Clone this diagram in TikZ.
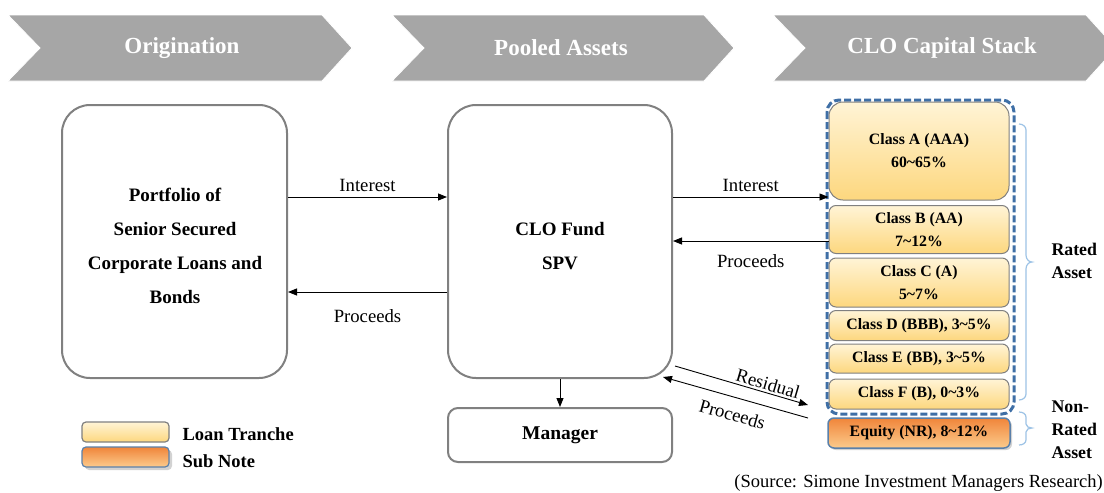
\documentclass[tikz,border=0pt]{standalone}
\usepackage{fontspec}
\setmainfont{Liberation Serif}
\usetikzlibrary{arrows.meta,shadows}
\definecolor{chev}{HTML}{A6A6A6}
\definecolor{boxline}{HTML}{808080}
\definecolor{stackblue}{HTML}{3F6FA6}
\definecolor{bracecol}{HTML}{9DC3E6}
\definecolor{loantop}{HTML}{FFF4D6}
\definecolor{loanbot}{HTML}{FDD77E}
\definecolor{eqtop}{HTML}{F0853A}
\definecolor{eqbot}{HTML}{FCCB8C}
\definecolor{eqline}{HTML}{5A80AA}
\tikzset{
  chevron/.style={fill=chev, draw=white, line width=0.8pt},
  chevtext/.style={text=white, font=\fontsize{23}{26}\selectfont\bfseries},
  bigbox/.style={draw=boxline, line width=2pt, rounded corners=28pt, fill=white},
  mgrbox/.style={draw=boxline, line width=2pt, rounded corners=10pt, fill=white},
  boxtext/.style={font=\fontsize{19}{34}\selectfont\bfseries, align=center},
  flow/.style={line width=0.9pt, -{Triangle[length=9pt,width=7pt]}},
  flowlabel/.style={font=\fontsize{18.7}{21}\selectfont},
  tranche/.style={draw=boxline, line width=1pt, rounded corners=7pt, shading=axis, top color=loantop, bottom color=loanbot, font=\fontsize{15.8}{23}\selectfont\bfseries, align=center, inner sep=0pt},
  equitybox/.style={draw=eqline, line width=1.5pt, rounded corners=6pt, shading=axis, top color=eqtop, bottom color=eqbot, font=\fontsize{15.8}{18}\selectfont\bfseries, inner sep=0pt, drop shadow={shadow xshift=2pt, shadow yshift=-2pt, opacity=0.35}},
  bracetext/.style={font=\fontsize{17.8}{23}\selectfont\bfseries, align=left, anchor=west},
  legtext/.style={font=\fontsize{18.5}{20}\selectfont\bfseries, anchor=west},
}
\begin{document}
\begin{tikzpicture}[x=1pt,y=-1pt]
\useasboundingbox (0,0) rectangle (1104,493);
\fill[white] (0,0) rectangle (1104,493);
% chevrons
\fill[chevron] (8,15) -- (322,15) -- (352,48) -- (322,81) -- (8,81) -- (40,48) -- cycle;
\fill[chevron] (392,15) -- (704,15) -- (734,48) -- (704,81) -- (392,81) -- (424,48) -- cycle;
\fill[chevron] (773,15) -- (1086,15) -- (1116,48) -- (1086,81) -- (773,81) -- (805,48) -- cycle;
\node[chevtext] (c1) at (182,48) {Origination};
\node[chevtext] (c2) at (561,48) {Pooled Assets};
\node[chevtext] (c3) at (942,48) {CLO Capital Stack};
% main boxes
\node[bigbox, minimum width=225pt, minimum height=273pt] (port) at (174.5,241.5) {};
\node[boxtext] (porttext) at (175,246) {Portfolio of\\Senior Secured\\Corporate Loans and\\Bonds};
\node[bigbox, minimum width=224pt, minimum height=273pt] (fund) at (560,241.5) {};
\node[boxtext] (fundtext) at (560,246) {CLO Fund\\SPV};
\node[mgrbox, minimum width=224pt, minimum height=54pt, boxtext, font=\fontsize{19.5}{24}\selectfont\bfseries] (mgr) at (560,435) {Manager};
% stack
\draw[stackblue, line width=3pt, dash pattern=on 7pt off 3pt, rounded corners=12pt] (827,100) rectangle (1014,414);
\node[tranche, minimum width=180pt, minimum height=98pt, rounded corners=14pt] (ca) at (919,151) {Class A (AAA)\\60\textasciitilde65\%};
\node[tranche, minimum width=180pt, minimum height=48pt] (cb) at (919,229.5) {Class B (AA)\\7\textasciitilde12\%};
\node[tranche, minimum width=180pt, minimum height=49pt] (cc) at (919,282.5) {Class C (A)\\5\textasciitilde7\%};
\node[tranche, minimum width=180pt, minimum height=30pt] (cd) at (919,325.5) {Class D (BBB), 3\textasciitilde5\%};
\node[tranche, minimum width=180pt, minimum height=29pt] (ce) at (919,358.5) {Class E (BB), 3\textasciitilde5\%};
\node[tranche, minimum width=180pt, minimum height=30pt] (cf) at (919,394) {Class F (B), 0\textasciitilde3\%};
\node[equitybox, minimum width=182pt, minimum height=30pt] (eq) at (919,433) {Equity (NR), 8\textasciitilde12\%};
% braces
\draw[bracecol, line width=1.2pt] (1019,124) to[out=0,in=90] (1026,130) -- (1026,255) to[out=-90,in=180] (1032,262) to[out=180,in=90] (1026,269) -- (1026,394) to[out=-90,in=0] (1019,400);
\draw[bracecol, line width=1.2pt] (1019,412) to[out=0,in=90] (1026,417) -- (1026,424) to[out=-90,in=180] (1032,428) to[out=180,in=90] (1026,432) -- (1026,440) to[out=-90,in=0] (1019,445);
\node[bracetext] (rated) at (1048,261) {Rated\\Asset};
\node[bracetext] (nonrated) at (1048,430) {Non-\\Rated\\Asset};
% flows
\coordinate (yi) at (0,197);
\coordinate (yp) at (0,292);
\coordinate (yp2) at (0,241);
\draw[flow] (port.east |- yi) -- node[flowlabel, above=2pt] (l1) {Interest} (fund.west |- yi);
\draw[flow] (fund.west |- yp) -- node[flowlabel, below=14pt] (l2) {Proceeds} (port.east |- yp);
\draw[flow] (fund.east |- yi) -- node[flowlabel, above=2pt] (l3) {Interest} (ca.west |- yi);
\draw[flow] (cb.west |- yp2) -- node[flowlabel, below=10pt] (l4) {Proceeds} (fund.east |- yp2);
\draw[flow] (fund.south) -- (mgr.north);
\coordinate (r1) at (675,366);
\coordinate (r2) at (808,405);
\coordinate (p1) at (808,418);
\coordinate (p2) at (663,377);
\draw[flow] (r1) -- node[flowlabel, sloped, above=2pt, pos=0.68, inner sep=0pt] (lr) {Residual} (r2);
\draw[flow] (p1) -- node[flowlabel, sloped, below=10pt, pos=0.49, inner sep=0pt] (lp) {Proceeds} (p2);
% legend
\node[draw=boxline, line width=1.2pt, rounded corners=4pt, shading=axis, top color=loantop, bottom color=loanbot, minimum width=87pt, minimum height=20pt, inner sep=0pt] (leg1) at (125.5,432) {};
\node[draw=eqline, line width=1.2pt, rounded corners=4pt, shading=axis, top color=eqtop, bottom color=eqbot, minimum width=87pt, minimum height=20pt, inner sep=0pt, drop shadow={shadow xshift=3pt, shadow yshift=-3pt, opacity=0.35}] (leg2) at (125.5,457) {};
\node[legtext] (legt1) at (179,434) {Loan Tranche};
\node[legtext] (legt2) at (179,461) {Sub Note};
\node[font=\fontsize{18.5}{20}\selectfont, anchor=east, inner sep=1pt] (src) at (1104,483) {(Source: Simone Investment Managers Research)};
\end{tikzpicture}
\end{document}
